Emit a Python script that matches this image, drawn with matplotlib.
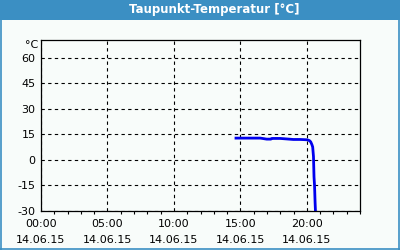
import matplotlib
matplotlib.use("Agg")
import matplotlib.pyplot as plt
from matplotlib.lines import Line2D

# dew point readings, hours since 00:00 on 14.06.15
hours = [14.67, 15.5, 16.5, 16.98, 17.3, 17.36, 18.0, 18.98, 19.5, 20.04,
         20.2, 20.29, 20.38, 20.44, 20.5, 20.54, 20.58, 20.62, 20.66]
dewpoint = [12.8, 12.8, 12.8, 12.2, 12.2, 12.6, 12.6, 12.0, 12.0, 11.8,
            11.3, 10.6, 9.0, 7.6, 2.0, -10.0, -15.0, -24.7, -32.0]

xticks = [0, 5, 10, 15, 20]
xticklabels = ["00:00\n14.06.15", "05:00\n14.06.15", "10:00\n14.06.15",
               "15:00\n14.06.15", "20:00\n14.06.15"]
yticks = [-30, -15, 0, 15, 30, 45, 60]

bg = "#f8fcfa"
blue = "#3b8fc3"

fig = plt.figure(figsize=(4, 2.5), dpi=100, facecolor=bg)

# title bar and frame
fig.patches.append(plt.Rectangle((0, 0.92), 1, 0.08, transform=fig.transFigure,
                                 facecolor=blue, edgecolor="none"))
for xs, ys in [([0.0015, 0.0015], [0, 1]), ([0.9975, 0.9975], [0, 1]),
               ([0, 1], [0.003, 0.003])]:
    fig.add_artist(Line2D(xs, ys, transform=fig.transFigure, color=blue, linewidth=1.2))
fig.text(0.535, 0.96, "Taupunkt-Temperatur [°C]", color="white", fontsize=8.5,
         fontweight="bold", ha="center", va="center")

ax = fig.add_axes([0.1025, 0.156, 0.7975, 0.684])
ax.set_facecolor(bg)
ax.plot(hours, dewpoint, color="#0000ee", linewidth=2)

ax.set_xlim(0, 24)
ax.set_ylim(-30, 70.4)
ax.set_xticks(xticks)
ax.set_xticklabels(xticklabels, fontsize=8, linespacing=1.75)
ax.set_xticks(range(25), minor=True)
ax.set_yticks(yticks)
ax.set_yticklabels([str(v) for v in yticks], fontsize=8)
ax.tick_params(axis="x", which="major", length=0, pad=6)
ax.tick_params(axis="x", which="minor", length=2.5, width=0.8, direction="out")
ax.tick_params(axis="y", length=0, pad=4)
ax.grid(True, color="black", linestyle=(0, (3, 3)), linewidth=0.8)
for s in ax.spines.values():
    s.set_linewidth(0.9)

fig.text(0.062, 0.822, "°C", fontsize=8, ha="left", va="center")

plt.savefig("out.png", dpi=100, facecolor=bg)
